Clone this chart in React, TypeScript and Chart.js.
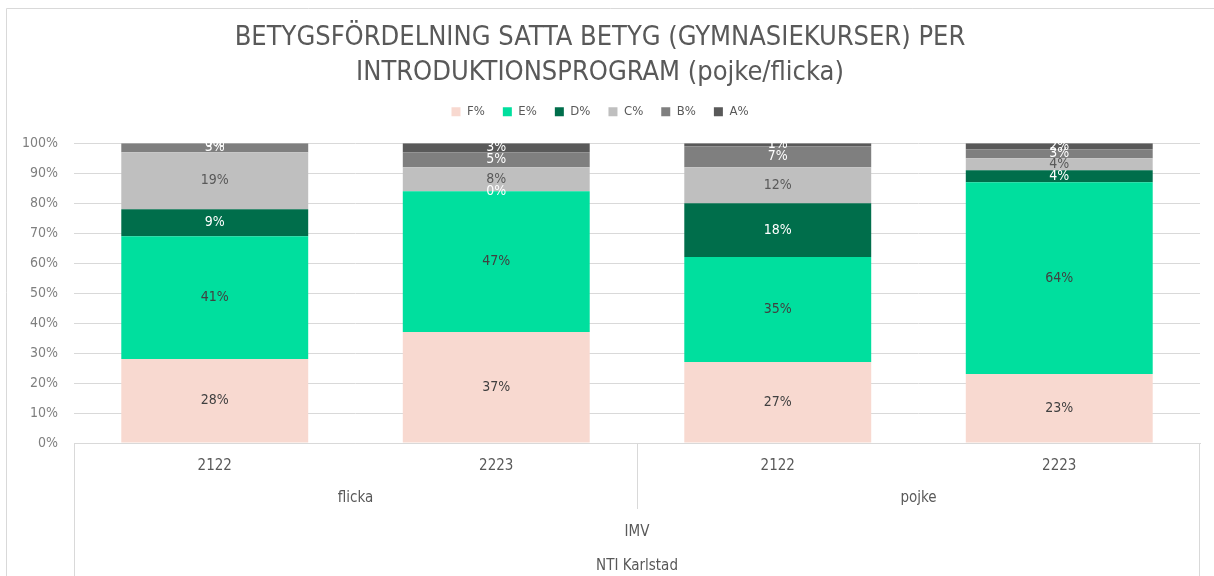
import React, { useEffect, useRef } from "react";
import { Chart, registerables } from "chart.js";

Chart.register(...registerables);

const titleLines = [
  "BETYGSFÖRDELNING SATTA BETYG (GYMNASIEKURSER) PER",
  "INTRODUKTIONSPROGRAM (pojke/flicka)",
];
const years = ["2122", "2223", "2122", "2223"];
const genders = ["flicka", "pojke"];
const programLabel = "IMV";
const schoolLabel = "NTI Karlstad";
const seriesNames = ["F%", "E%", "D%", "C%", "B%", "A%"];

const F = [28, 37, 27, 23];
const E = [41, 47, 35, 64];
const D = [9, 0, 18, 4];
const C = [19, 8, 12, 4];
const B = [3, 5, 7, 3];
const A = [0, 3, 1, 2];
const seriesValues = [F, E, D, C, B, A];

const colors = ["#F8D9D0", "#00DF9E", "#006E4B", "#BFBFBF", "#7F7F7F", "#595959"];
const labelColors = ["#404040", "#404040", "#FFFFFF", "#595959", "#FFFFFF", "#FFFFFF"];

const FONT = "'DejaVu Sans Condensed', 'DejaVu Sans', sans-serif";

const legendGapPlugin = {
  id: "legendGap",
  beforeLayout(chart: any) {
    const lg = chart.legend;
    if (lg && !lg._gapPatched) {
      const orig = lg.fit.bind(lg);
      lg.fit = function () {
        orig();
        this.height += 15;
      };
      lg._gapPatched = true;
    }
  },
};

const dataLabelPlugin = {
  id: "dataLabels",
  afterDatasetsDraw(chart: any) {
    const ctx = chart.ctx;
    ctx.save();
    ctx.font = `14px ${FONT}`;
    ctx.textAlign = "center";
    ctx.textBaseline = "middle";
    chart.data.datasets.forEach((ds: any, i: number) => {
      const meta = chart.getDatasetMeta(i);
      meta.data.forEach((el: any, j: number) => {
        const v = ds.data[j];
        const y = (el.y + el.base) / 2;
        ctx.fillStyle = labelColors[i];
        ctx.fillText(`${v}%`, el.x, y);
      });
    });
    ctx.restore();
  },
};

const multiAxisPlugin = {
  id: "multiAxis",
  afterDraw(chart: any) {
    const ctx = chart.ctx;
    const xs = chart.scales.x;
    const bottom = chart.chartArea.bottom;
    const H = chart.height;
    ctx.save();
    ctx.strokeStyle = "#D9D9D9";
    ctx.lineWidth = 1;
    const left = Math.round(xs.left) + 0.5;
    const right = Math.round(xs.right) - 0.5;
    const mid = Math.round((xs.getPixelForTick(1) + xs.getPixelForTick(2)) / 2) + 0.5;
    ctx.beginPath();
    ctx.moveTo(left, bottom);
    ctx.lineTo(left, H);
    ctx.moveTo(right, bottom);
    ctx.lineTo(right, H);
    ctx.moveTo(mid, bottom);
    ctx.lineTo(mid, bottom + 66);
    ctx.stroke();

    // outer chart border (top/left)
    ctx.beginPath();
    ctx.moveTo(6.5, H);
    ctx.lineTo(6.5, 8.5);
    ctx.lineTo(chart.width, 8.5);
    ctx.stroke();

    ctx.fillStyle = "#595959";
    ctx.font = `15px ${FONT}`;
    ctx.textAlign = "center";
    ctx.textBaseline = "middle";
    years.forEach((y, i) => {
      ctx.fillText(y, xs.getPixelForTick(i), bottom + 23);
    });
    genders.forEach((g, k) => {
      const cx = (xs.getPixelForTick(2 * k) + xs.getPixelForTick(2 * k + 1)) / 2;
      ctx.fillText(g, cx, bottom + 55);
    });
    const center = (xs.left + xs.right) / 2;
    ctx.fillText(programLabel, center, bottom + 89);
    ctx.fillText(schoolLabel, center, bottom + 123);
    ctx.restore();
  },
};

export default function App() {
  const ref = useRef<HTMLCanvasElement | null>(null);
  useEffect(() => {
    if (!ref.current) return;
    const chart = new Chart(ref.current, {
      type: "bar",
      data: {
        labels: years,
        datasets: seriesNames.map((name, i) => ({
          label: name,
          data: seriesValues[i],
          backgroundColor: colors[i],
          borderWidth: 0,
          categoryPercentage: 1,
          barPercentage: 0.664,
        })),
      },
      options: {
        responsive: false,
        animation: false,
        layout: { padding: { left: 0, right: 14, top: 0, bottom: 0 } },
        plugins: {
          title: {
            display: true,
            text: titleLines,
            color: "#595959",
            font: { family: FONT, size: 27, weight: "normal", lineHeight: 1.3 },
            padding: { top: 20, bottom: -3 },
          },
          legend: {
            display: true,
            labels: {
              color: "#595959",
              font: { family: FONT, size: 13 },
              boxWidth: 9,
              boxHeight: 9,
              padding: 18,
            },
          },
          tooltip: { enabled: false },
        },
        scales: {
          x: {
            stacked: true,
            grid: { display: false },
            ticks: { display: false },
            border: { display: true, color: "#D9D9D9" },
            afterFit: (s: any) => {
              s.height = 133;
            },
          },
          y: {
            stacked: true,
            min: 0,
            max: 100,
            ticks: {
              stepSize: 10,
              color: "#7F7F7F",
              font: { family: FONT, size: 14 },
              padding: 16,
              callback: (v: any) => `${v}%`,
            },
            grid: { color: "#D9D9D9", drawTicks: false },
            border: { display: false },
            afterFit: (s: any) => {
              s.width = 74;
            },
          },
        },
      },
      plugins: [legendGapPlugin, dataLabelPlugin, multiAxisPlugin],
    });
    return () => chart.destroy();
  }, []);
  return (
    <div style={{ position: "fixed", left: 0, top: 0, width: 1214, height: 576, background: "#fff" }}>
      <canvas ref={ref} width={1214} height={576} />
    </div>
  );
}
